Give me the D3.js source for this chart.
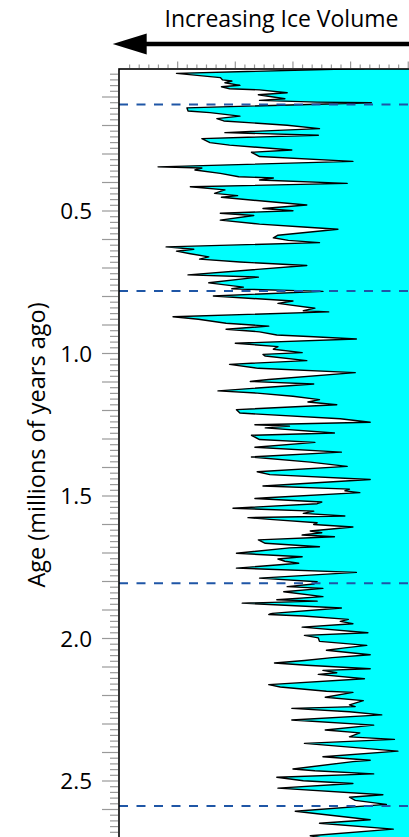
<!DOCTYPE html>
<html><head><meta charset="utf-8">
<script src="https://cdn.jsdelivr.net/npm/d3@7"></script>
<style>body{margin:0;background:#fff}svg{display:block}</style>
</head><body><svg id="c" width="409" height="837"></svg>
<script>
// Age (millions of years ago)
const ages = [0,0.017,0.032,0.040,0.044,0.050,0.059,0.064,0.071,0.075,0.085,0.092,0.106,0.112,0.118,0.120,0.138,0.149,0.155,0.167,0.176,0.184,0.199,0.211,0.225,0.234,0.246,0.260,0.269,0.286,0.294,0.309,0.326,0.345,0.349,0.356,0.368,0.380,0.384,0.391,0.403,0.415,0.426,0.438,0.446,0.452,0.479,0.491,0.499,0.508,0.516,0.532,0.546,0.556,0.564,0.585,0.594,0.603,0.611,0.626,0.634,0.641,0.650,0.661,0.669,0.679,0.691,0.724,0.732,0.752,0.767,0.773,0.782,0.798,0.816,0.824,0.841,0.850,0.854,0.871,0.880,0.894,0.904,0.915,0.924,0.935,0.941,0.949,0.964,0.976,0.985,0.997,1.003,1.009,1.025,1.038,1.052,1.067,1.091,1.098,1.107,1.131,1.139,1.150,1.162,1.170,1.180,1.197,1.209,1.229,1.241,1.250,1.255,1.261,1.279,1.287,1.302,1.312,1.329,1.346,1.363,1.381,1.396,1.415,1.425,1.442,1.465,1.476,1.482,1.488,1.506,1.509,1.521,1.527,1.543,1.553,1.561,1.570,1.576,1.582,1.594,1.600,1.609,1.623,1.629,1.637,1.643,1.654,1.666,1.678,1.682,1.701,1.713,1.721,1.729,1.736,1.753,1.768,1.788,1.801,1.809,1.818,1.824,1.836,1.853,1.864,1.869,1.876,1.893,1.912,1.916,1.921,1.933,1.940,1.948,1.960,1.980,1.989,1.998,2.010,2.024,2.033,2.041,2.057,2.067,2.077,2.086,2.094,2.106,2.112,2.120,2.126,2.141,2.162,2.170,2.185,2.189,2.206,2.218,2.233,2.239,2.245,2.257,2.268,2.286,2.304,2.321,2.331,2.345,2.354,2.368,2.395,2.415,2.427,2.432,2.458,2.464,2.475,2.487,2.499,2.509,2.525,2.548,2.557,2.568,2.582,2.606,2.636,2.648,2.669,2.692,2.725];
// benthic d18O (per mil)
const d18O = [3.38,5.01,4.63,4.61,4.53,4.59,4.46,4.62,4.55,4.29,4.05,4.30,4.07,4.29,3.79,3.32,4.92,4.91,4.72,4.46,4.66,4.60,4.05,3.77,4.59,3.78,4.79,4.72,4.55,4.01,4.36,4.29,3.48,5.17,4.79,4.85,4.63,4.47,4.17,4.29,3.53,4.89,4.59,4.68,4.48,4.62,3.88,4.26,4.00,4.63,4.34,4.63,4.29,3.91,3.61,4.13,4.17,4.04,3.77,5.10,4.86,5.01,4.89,4.73,4.81,4.46,3.88,4.91,4.30,4.73,4.43,4.53,3.74,4.69,4.00,4.13,3.81,3.91,3.69,5.04,4.82,4.58,4.21,4.58,4.29,4.14,3.82,3.45,4.50,4.13,4.17,3.92,4.26,4.24,3.88,4.55,4.30,3.46,4.21,4.37,3.82,4.65,4.31,4.00,3.77,3.87,3.62,4.49,4.46,3.59,3.33,4.33,4.03,4.24,3.64,4.36,4.29,3.81,4.33,3.58,4.36,3.85,3.53,4.31,4.20,3.33,4.26,3.51,3.55,3.42,4.23,4.33,3.75,3.79,4.52,3.82,3.91,3.55,4.39,4.20,3.79,3.82,3.48,3.85,3.75,3.92,3.64,4.30,4.24,3.77,4.03,4.49,3.92,4.13,4.07,3.95,4.49,3.45,4.29,3.79,3.82,4.05,3.74,4.08,3.74,4.14,3.79,4.44,3.58,4.18,4.21,3.91,3.52,3.59,3.48,3.92,3.35,3.90,3.78,3.77,3.36,3.55,3.71,3.33,3.66,3.90,4.16,3.88,3.33,3.74,3.62,3.78,3.38,4.21,4.11,3.71,3.48,3.72,3.39,3.51,3.46,4.01,3.51,3.23,4.01,3.30,3.72,3.42,3.51,3.12,3.90,3.09,3.74,3.33,3.48,4.00,3.81,3.30,4.14,3.91,3.48,4.13,3.22,3.51,3.46,3.19,3.98,3.33,3.77,3.13,3.85,3.42];
const boundaries = [0.126, 0.781, 1.806, 2.588];
const yTickValues = [0.5, 1.0, 1.5, 2.0, 2.5];
const yTickLabels = ["0.5", "1.0", "1.5", "2.0", "2.5"];
const headerText = "Increasing Ice Volume";
const axisTitle = "Age (millions of years ago)";

const svg = d3.select("#c");
const FONT = "'Open Sans', 'Noto Sans', sans-serif";
const plotLeft = 119, plotTop = 68.5;
const x = d3.scaleLinear().domain([5.5, 2.9]).range([120, 120 + 2.6 * 115.3]);
const y = d3.scaleLinear().domain([0, 2.7]).range([plotTop, plotTop + 2.7 * 285]);
const data = ages.map((a, i) => ({age: a, v: d18O[i]}));

svg.append("defs").append("clipPath").attr("id", "plot")
  .append("rect").attr("x", plotLeft).attr("y", 69).attr("width", 320).attr("height", 900);

const g = svg.append("g").attr("clip-path", "url(#plot)");
g.append("path").datum(data)
  .attr("d", d3.area().y(d => y(d.age)).x0(d => x(d.v)).x1(x(2.9)))
  .attr("fill", "#00ffff");
g.append("path").datum(data)
  .attr("d", d3.line().y(d => y(d.age)).x(d => x(d.v)))
  .attr("fill", "none").attr("stroke", "#000").attr("stroke-width", 1.4).attr("stroke-linejoin", "round");

// boundaries
g.selectAll("line.b").data(boundaries).join("line")
  .attr("x1", plotLeft).attr("x2", 420).attr("y1", d => y(d)).attr("y2", d => y(d))
  .attr("stroke", "#1f56a6").attr("stroke-width", 2).attr("stroke-dasharray", "9,8.5");

// frame
svg.append("rect").attr("x", plotLeft).attr("y", 69).attr("width", 320).attr("height", 900)
  .attr("fill", "none").attr("stroke", "#000").attr("stroke-width", 1.6);

// top ticks
const topTicks = d3.range(1, 31).map(k => 5.5 - k / 12);
svg.selectAll("line.tt").data(topTicks).join("line")
  .attr("x1", d => x(d)).attr("x2", d => x(d))
  .attr("y1", 68).attr("y2", (d, i) => (i + 1) % 6 === 0 ? 61.5 : 64.5)
  .attr("stroke", "#999").attr("stroke-width", 1.2);

// left ticks
const leftTicks = d3.range(1, 140).map(k => k * 0.02);
svg.selectAll("line.lt").data(leftTicks).join("line")
  .attr("y1", d => y(d)).attr("y2", d => y(d))
  .attr("x1", (d, i) => (i + 1) % 5 === 0 ? 102 : 110).attr("x2", 118)
  .attr("stroke", "#999").attr("stroke-width", 1.2);

svg.selectAll("text.yl").data(yTickValues).join("text")
  .attr("x", 92).attr("y", d => y(d)).attr("dy", "0.36em")
  .attr("text-anchor", "end").attr("font-family", FONT).attr("font-size", 22.5)
  .text((d, i) => yTickLabels[i]);

svg.append("text").attr("transform", "translate(45,445) rotate(-90)")
  .attr("text-anchor", "middle").attr("font-family", FONT).attr("font-size", 23.5)
  .text(axisTitle);

// header
svg.append("text").attr("x", 281.5).attr("y", 26.5).attr("text-anchor", "middle")
  .attr("font-family", FONT).attr("font-size", 23).text(headerText);
svg.append("line").attr("x1", 140).attr("x2", 409).attr("y1", 44).attr("y2", 44)
  .attr("stroke", "#000").attr("stroke-width", 4.5);
svg.append("path").attr("d", d3.line()([[112.7, 44], [146.7, 33.5], [146.7, 54.5]]) + "Z").attr("fill", "#000");
</script></body></html>
